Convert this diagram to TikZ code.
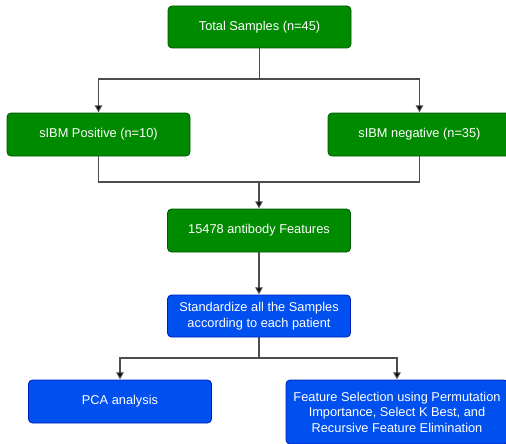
\documentclass[tikz,border=0pt]{standalone}
\usepackage{fontspec}
\setmainfont{Liberation Sans}
\usetikzlibrary{arrows.meta}
\definecolor{gfill}{HTML}{008A00}
\definecolor{gline}{HTML}{005700}
\definecolor{bfill}{HTML}{0050EF}
\definecolor{bline}{HTML}{001DBC}
\definecolor{conn}{HTML}{4D4D4D}
\tikzset{
  box/.style={rounded corners=4pt, text=white, align=center, font=\fontsize{12.8}{15.5}\selectfont, inner sep=0pt, line width=0.8pt},
  gbox/.style={box, fill=gfill, draw=gline},
  bbox/.style={box, fill=bfill, draw=bline},
  conline/.style={draw=conn, line width=1.1pt},
  arr/.style={conline, -{Triangle[length=7pt,width=7.5pt,fill=black]}, shorten >=0.3pt}
}
\begin{document}
\begin{tikzpicture}[x=1pt,y=-1pt]
\useasboundingbox[fill=white] (0,0) rectangle (506,444);
\node[gbox, minimum width=183pt, minimum height=42pt] (total) at (259.5,27) {Total Samples (n=45)};
\node[gbox, minimum width=183pt, minimum height=43pt] (pos) at (98.5,134.5) {sIBM Positive (n=10)};
\node[gbox, minimum width=183pt, minimum height=43pt] (neg) at (419.5,134.5) {sIBM negative (n=35)};
\node[gbox, minimum width=183pt, minimum height=43pt] (feat) at (259,230.5) {15478 antibody Features};
\node[bbox, minimum width=183pt, minimum height=42pt] (std) at (259,316) {Standardize all the Samples\\according to each patient};
\node[bbox, minimum width=183pt, minimum height=43pt] (pca) at (120,401.5) {PCA analysis};
\node[bbox, minimum width=222pt, minimum height=64pt] (fs) at (397,412) {Feature Selection using Permutation\\Importance, Select K Best, and\\Recursive Feature Elimination};
\coordinate (j0) at (259.5,79);
\coordinate (j1) at (259,182);
\coordinate (j2) at (259,358);
\draw[conline] (total.south) -- (j0);
\draw[arr] (j0) -| (pos.north);
\draw[arr] (j0) -| (neg.north);
\draw[conline] (pos.south) |- (j1);
\draw[conline] (neg.south) |- (j1);
\draw[arr] (j1) -- (feat.north);
\draw[arr] (feat.south) -- (std.north);
\draw[conline] (std.south) -- (j2);
\draw[arr] (j2) -| (pca.north);
\draw[arr] (j2) -| (fs.north);
\end{tikzpicture}
\end{document}
